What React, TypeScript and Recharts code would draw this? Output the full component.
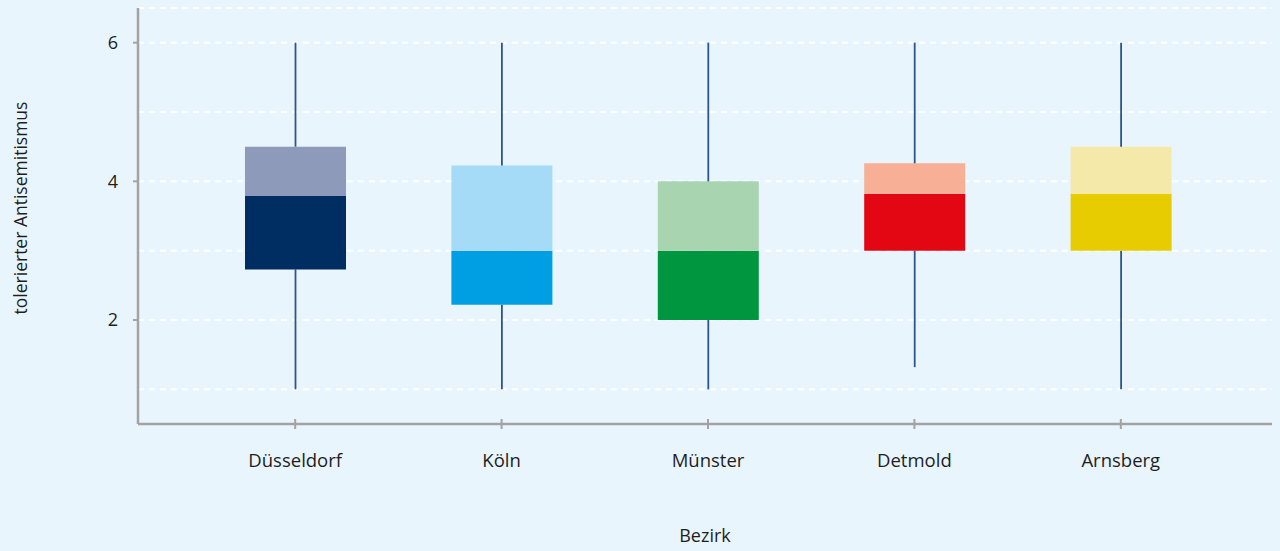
import { ComposedChart, Bar, XAxis, YAxis, CartesianGrid, Cell } from "recharts";

// Bezirk box plots
const categories = ["Düsseldorf", "Köln", "Münster", "Detmold", "Arnsberg"];
const minValues = [1, 1, 1, 1.32, 1];
const q1Values = [2.73, 2.22, 2, 3, 3];
const medianValues = [3.79, 3, 3, 3.82, 3.82];
const q3Values = [4.5, 4.23, 4, 4.26, 4.5];
const maxValues = [6, 6, 6, 6, 6];
const yTicks = [2, 4, 6];
const gridValues = [1, 2, 3, 4, 5, 6, 6.5];

const darkColors = ["#002D62", "#009FE3", "#009640", "#E30613", "#E6CC00"];
const lightColors = ["#8E9AB9", "#A5DBF7", "#A9D4B0", "#F7AF96", "#F5E9AA"];

const AXIS_COLOR = "#A3A3A3";
const TEXT_COLOR = "#1E1E1E";
const FONT = "'Open Sans', sans-serif";

const data = categories.map((name, i) => ({
  name,
  base: minValues[i],
  lowWhisker: q1Values[i] - minValues[i],
  lowerBox: medianValues[i] - q1Values[i],
  upperBox: q3Values[i] - medianValues[i],
  highWhisker: maxValues[i] - q3Values[i],
}));

const Whisker = (props: any) => {
  const { x, y, width, height } = props;
  const cx = x + width / 2;
  return <line x1={cx} x2={cx} y1={y} y2={y + height} stroke="#2C5687" strokeWidth={1.8} />;
};

const XTick = (props: any) => {
  const { x, y, payload } = props;
  return (
    <g>
      <line x1={x} x2={x} y1={y - 36} y2={y - 31} stroke={AXIS_COLOR} strokeWidth={2} />
      <text x={x} y={y + 11.5} textAnchor="middle" fill={TEXT_COLOR} fontSize={18.5} fontFamily={FONT}>
        {payload.value}
      </text>
    </g>
  );
};

export default function App() {
  return (
    <div style={{ position: "absolute", left: 0, top: 0, width: 1280, height: 551, background: "#E9F5FD" }}>
      <ComposedChart
        width={1280}
        height={551}
        data={data}
        margin={{ top: 8, right: 8, left: 0, bottom: 0 }}
        barSize={101}
      >
        <CartesianGrid
          vertical={false}
          horizontalValues={gridValues}
          stroke="#FFFFFF"
          strokeWidth={2}
          strokeDasharray="6 5"
        />
        <XAxis
          dataKey="name"
          height={127}
          padding={{ left: 54, right: 48 }}
          axisLine={{ stroke: AXIS_COLOR, strokeWidth: 2.5 }}
          tickLine={{ stroke: AXIS_COLOR, strokeWidth: 2 }}
          tickSize={5}
          tickMargin={26}
          tick={<XTick />}
          interval={0}
          label={({ viewBox }: any) => (
            <text
              x={viewBox.x + viewBox.width / 2}
              y={551 - 9}
              textAnchor="middle"
              fill={TEXT_COLOR}
              fontSize={18}
              fontFamily={FONT}
            >
              Bezirk
            </text>
          )}
        />
        <YAxis
          width={138}
          type="number"
          domain={[0.5, 6.5]}
          ticks={yTicks}
          allowDataOverflow
          axisLine={{ stroke: AXIS_COLOR, strokeWidth: 2.5 }}
          tickLine={{ stroke: AXIS_COLOR, strokeWidth: 2 }}
          tickSize={5}
          tickMargin={15}
          tick={{ fill: TEXT_COLOR, fontSize: 18, fontFamily: FONT }}
          label={({ viewBox }: any) => {
            const cx = 20;
            const cy = viewBox.y + viewBox.height / 2 - 8;
            return (
              <text
                x={cx}
                y={cy}
                transform={`rotate(-90 ${cx} ${cy})`}
                textAnchor="middle"
                dominantBaseline="central"
                fill={TEXT_COLOR}
                fontSize={17.5}
                fontFamily={FONT}
              >
                tolerierter Antisemitismus
              </text>
            );
          }}
        />
        <Bar dataKey="base" stackId="box" fill="transparent" isAnimationActive={false} />
        <Bar dataKey="lowWhisker" stackId="box" shape={<Whisker />} isAnimationActive={false} />
        <Bar dataKey="lowerBox" stackId="box" isAnimationActive={false}>
          {data.map((_, i) => (
            <Cell key={`dark-${i}`} fill={darkColors[i]} />
          ))}
        </Bar>
        <Bar dataKey="upperBox" stackId="box" isAnimationActive={false}>
          {data.map((_, i) => (
            <Cell key={`light-${i}`} fill={lightColors[i]} />
          ))}
        </Bar>
        <Bar dataKey="highWhisker" stackId="box" shape={<Whisker />} isAnimationActive={false} />
      </ComposedChart>
    </div>
  );
}
